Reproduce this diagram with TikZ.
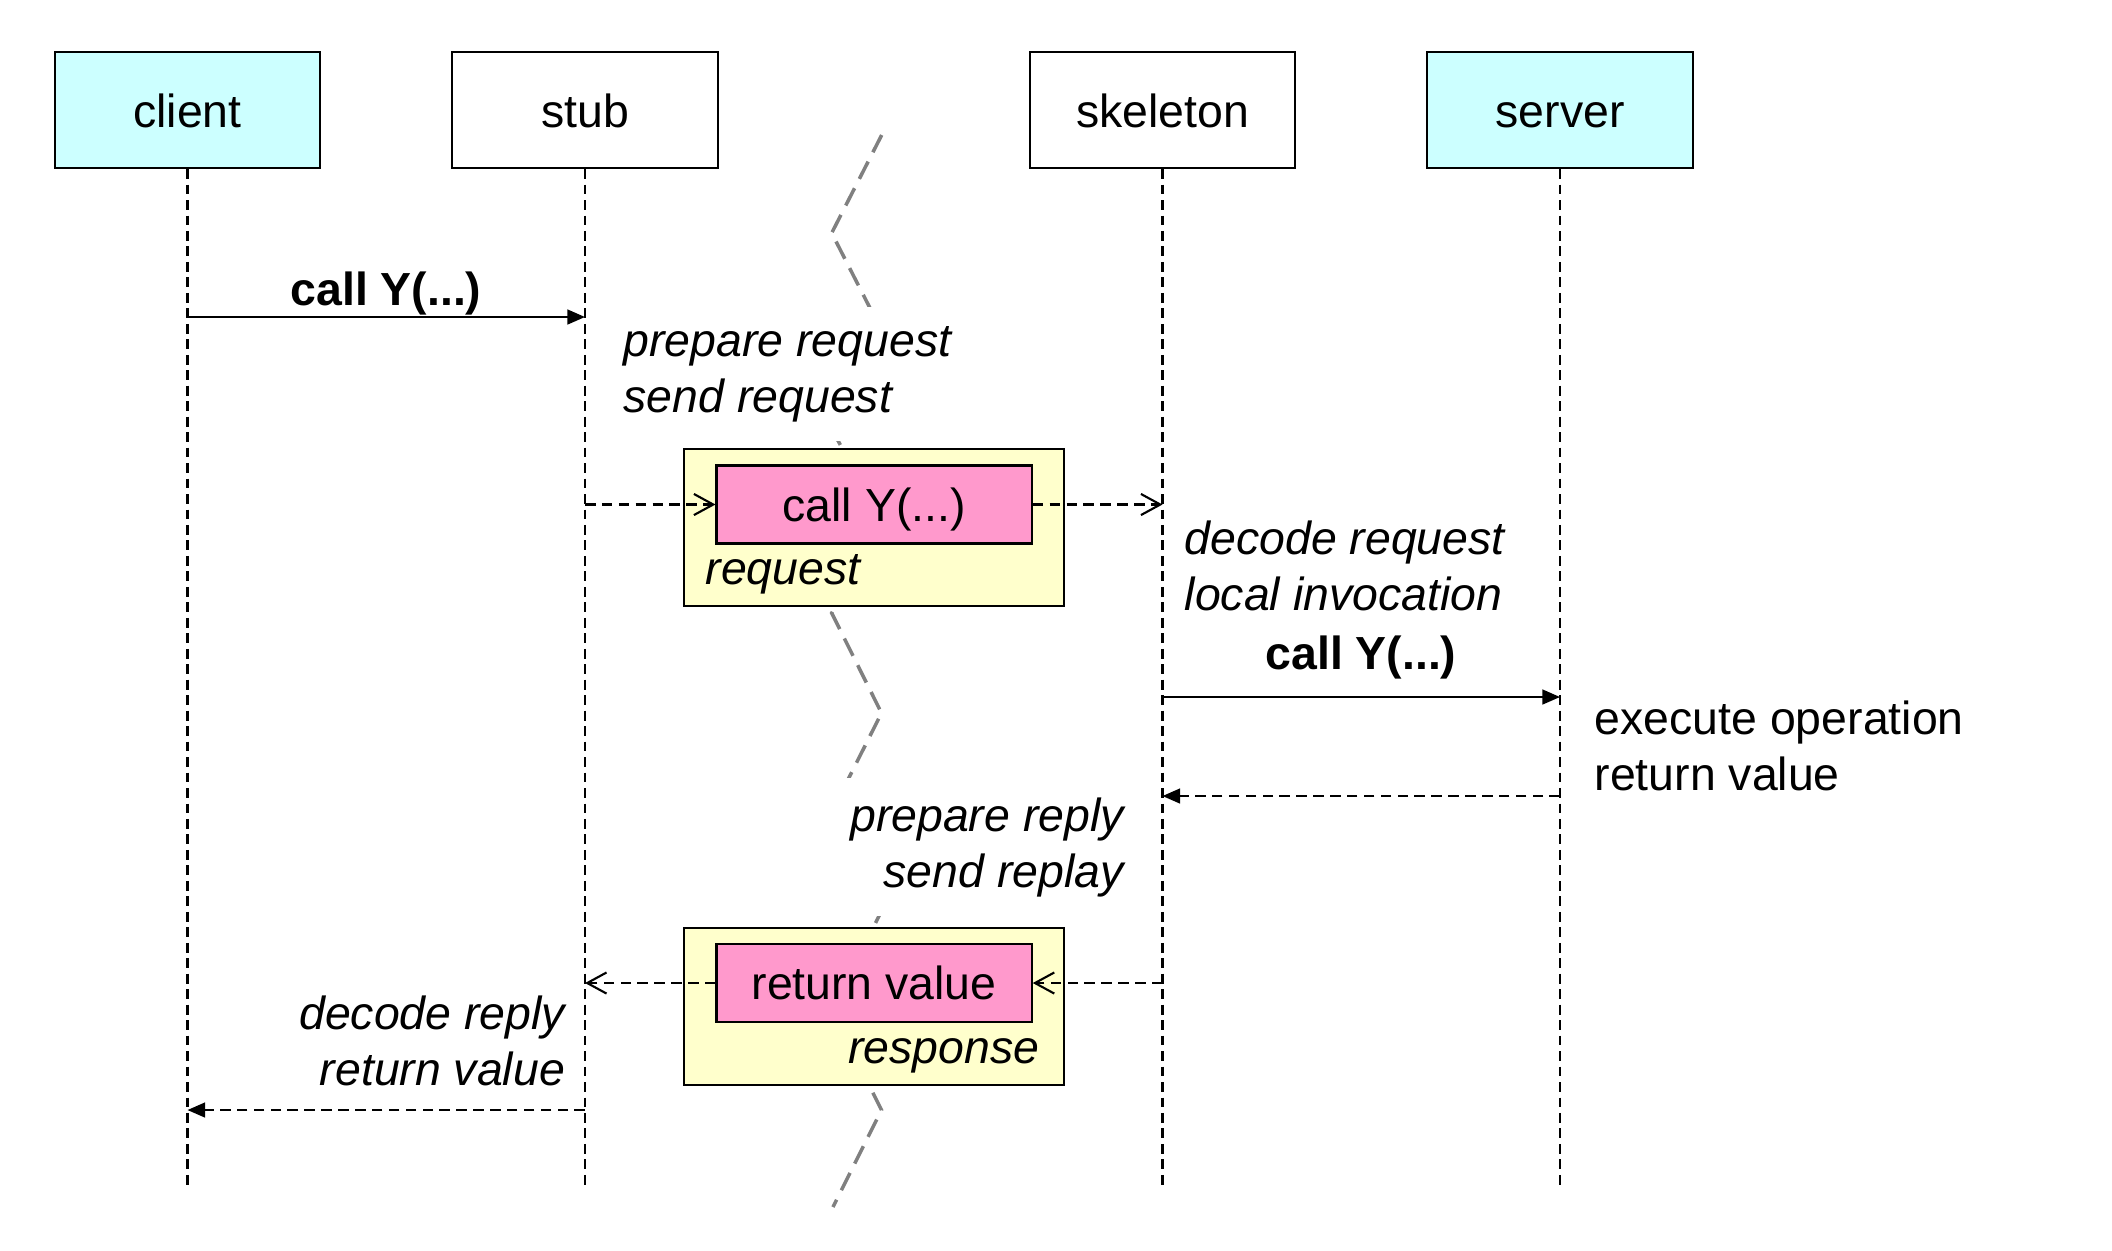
\documentclass[tikz,border=0pt]{standalone}
\usepackage{fontspec}
\setmainfont{Liberation Sans}
\usetikzlibrary{arrows.meta}
\definecolor{actorcyan}{HTML}{CCFFFF}
\definecolor{envyellow}{HTML}{FFFFCC}
\definecolor{msgpink}{HTML}{FF99CC}
\definecolor{netgray}{HTML}{808080}
\tikzset{
  actor/.style={draw, line width=0.6pt, minimum width=2.65cm, minimum height=1.16cm, inner sep=0pt, text height=10pt, text depth=0pt},
  lifeline/.style={line width=0.6pt, dash pattern=on 2.8pt off 1.6pt},
  call/.style={line width=0.6pt, -{Triangle[length=5pt,width=4.2pt]}},
  back/.style={call, dash pattern=on 3pt off 1.8pt},
  pass/.style={line width=0.6pt, dash pattern=on 3pt off 1.8pt, -{Straight Barb[length=5.5pt,width=6pt]}},
  netline/.style={netgray, line width=1pt, dash pattern=on 5.5pt off 3pt},
  envbox/.style={draw, fill=envyellow, line width=0.6pt, minimum width=3.8cm, minimum height=1.57cm, inner sep=0pt},
  msgbox/.style={draw, fill=msgpink, line width=0.6pt, minimum width=3.15cm, minimum height=0.78cm, inner sep=0pt, text height=9.5pt, text depth=0pt},
  label/.style={inner sep=0pt},
  note/.style={label, font=\itshape},
  blanked/.style={note, fill=white, inner xsep=6pt, inner ysep=5.5pt}
}
\begin{document}
\fontsize{13.2}{15.9}\selectfont
\begin{tikzpicture}[x=0.01cm, y=-0.01cm]
  \useasboundingbox (0,0) rectangle (2112,1250);
  % actors
  \node[actor, fill=actorcyan] (client) at (187.5,110) {client};
  \node[actor] (stub) at (585,110) {stub};
  \node[actor] (skeleton) at (1162.5,110) {skeleton};
  \node[actor, fill=actorcyan] (server) at (1560,110) {server};
  % lifelines
  \coordinate (bottom) at (0,1186);
  \foreach \n in {client,stub,skeleton,server}
    \draw[lifeline] (\n.south) -- (\n.south |- bottom);
  % network border
  \draw[netline] (881.7,135) -- (831.7,233) -- (881.7,331) -- (831.7,429) -- (881.7,521)
    -- (831.7,613) -- (881.5,713) -- (831.7,812) -- (881.5,911) -- (831.7,1010)
    -- (881.5,1110) -- (833,1207);
  % notes (base = last line)
  \node[blanked, anchor=base west, align=left] (prepreq) at (601.9,412) {prepare request\\send request};
  \node[note, anchor=base west, align=left] (decreq) at (1184,610) {decode request\\local invocation};
  \node[label, anchor=base west, align=left] (exec) at (1594,790.7) {execute operation\\return value};
  \node[blanked, anchor=base east, align=right] (preprep) at (1145.5,887) {prepare reply\\send replay};
  \node[note, anchor=base east, align=right] (decrep) at (565.7,1085) {decode reply\\return value};
  % request
  \node[envbox] (reqenv) at (873.9,527.4) {};
  \node[msgbox] (req) at (874.1,504.5) {call Y(...)};
  \node[note, anchor=base west] (reqname) at (705,584) {request};
  % response
  \node[envbox] (rspenv) at (873.9,1006.5) {};
  \node[msgbox] (rsp) at (874.1,983) {return value};
  \node[note, anchor=base east] (rspname) at (1040,1063) {response};
  % messages
  \coordinate (m1) at (0,317);
  \draw[call] (client |- m1) -- (stub |- m1);
  \node[label, font=\bfseries, anchor=base] (call1) at (386,305) {call Y(...)};
  \draw[pass] (stub |- req) -- (req.west);
  \draw[pass] (req.east) -- (skeleton |- req);
  \coordinate (m3) at (0,697);
  \draw[call] (skeleton |- m3) -- (server |- m3);
  \node[label, font=\bfseries, anchor=base] (call2) at (1361,669) {call Y(...)};
  \coordinate (m4) at (0,796);
  \draw[back] (server |- m4) -- (skeleton |- m4);
  \draw[pass] (skeleton |- rsp) -- (rsp.east);
  \draw[pass] (rsp.west) -- (stub |- rsp);
  \coordinate (m6) at (0,1110);
  \draw[back] (stub |- m6) -- (client |- m6);
\end{tikzpicture}
\end{document}
